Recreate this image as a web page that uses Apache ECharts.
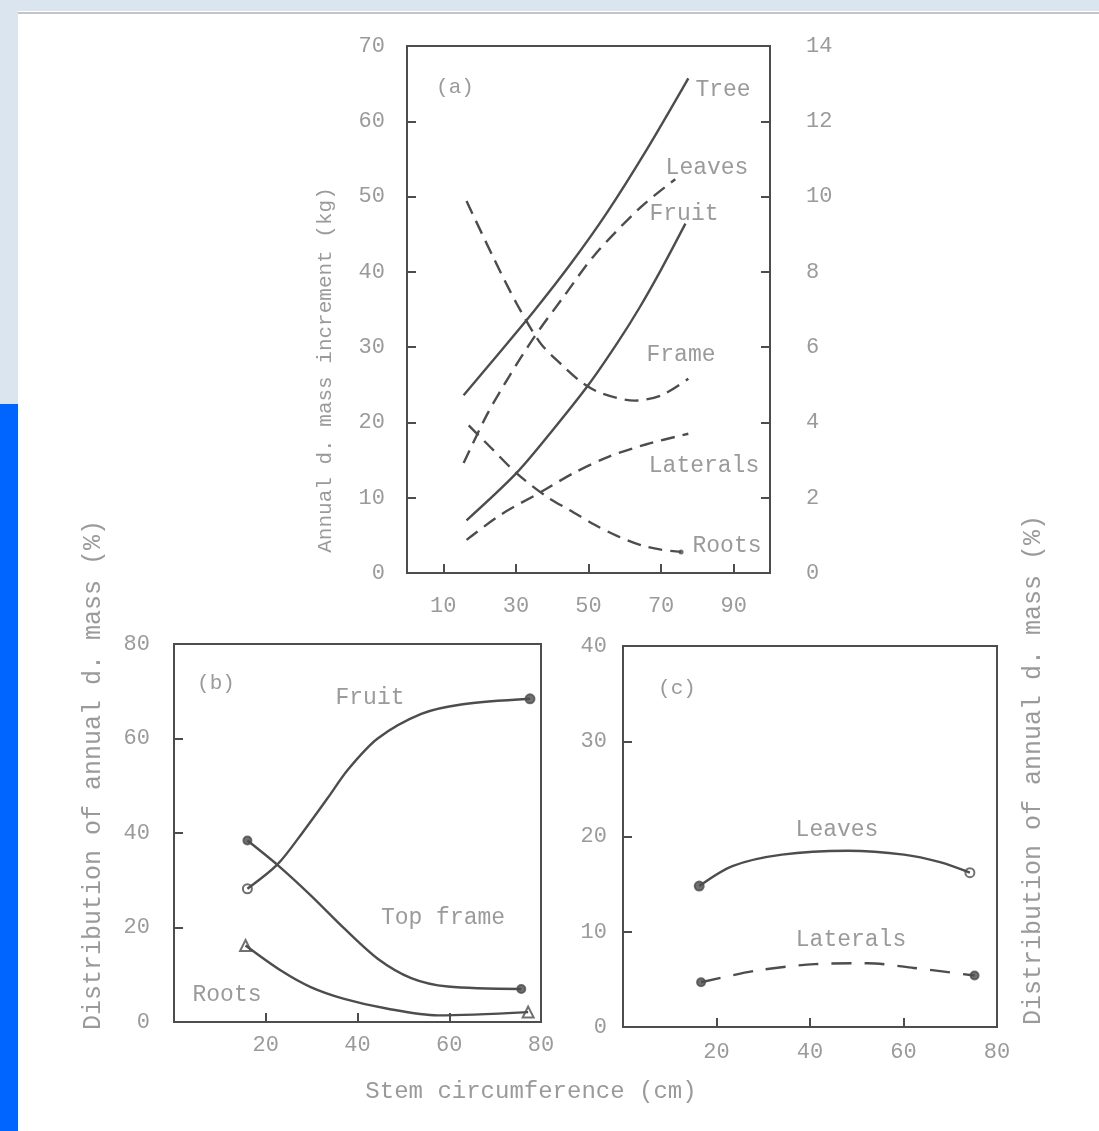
<!DOCTYPE html>
<html>
<head>
<meta charset="UTF-8">
<title>Annual dry mass increment</title>
<script type="text/javascript" src="https://cdn.jsdelivr.net/npm/echarts@6.0.0/dist/echarts.min.js"></script>
<style>
  body { margin: 0; background: #fff; }
  #main { width: 1099px; height: 1131px; }
</style>
</head>
<body>
<div id="main"></div>
<script type="text/javascript">
// panel (a): stem circumference (cm) vs annual d. mass increment
// solid lines on the left axis (kg, 0-70)
var treeA = [[15.6, 23.6], [25, 29.0], [35, 34.8], [45, 41.0], [55, 47.8], [66, 56.2], [77.5, 65.7]];
var fruitA = [[16.4, 7.0], [30, 13.2], [40, 18.9], [50, 25.0], [58, 30.6], [64, 35.2], [70, 40.3], [76.7, 46.4]];
// dashed lines on the right axis (kg, 0-14)
var leavesA = [[15.6, 2.92], [22, 4.2], [28, 5.2], [35, 6.26], [43, 7.32], [51.7, 8.45], [64.4, 9.72], [73.9, 10.46]];
var frameA = [[16.4, 9.88], [23.8, 8.38], [30.3, 7.14], [36.8, 6.1], [42.3, 5.56], [47.9, 5.08], [53.4, 4.78], [62.7, 4.58], [70.1, 4.72], [77.5, 5.16]];
var lateralsA = [[16.4, 0.88], [26, 1.56], [36.7, 2.14], [46, 2.66], [55.3, 3.08], [66, 3.42], [77.5, 3.7]];
var rootsA = [[17, 3.92], [23, 3.34], [30.3, 2.64], [38.6, 2.02], [45, 1.66], [51.7, 1.28], [58, 0.98], [64.4, 0.74], [70, 0.62], [75.5, 0.56]];

// panel (b): distribution of annual d. mass (%)
var fruitB = [[16, 28.2], [22.6, 33.4], [28.4, 40.6], [33.5, 47.4], [37.9, 53.4], [44.4, 60.0], [53.9, 65.2], [62.6, 67.2], [77.6, 68.4]];
var topFrameB = [[16, 38.4], [22.6, 33.2], [29.8, 26.8], [37.1, 19.8], [44.4, 13.4], [51.7, 9.3], [59.7, 7.5], [75.7, 7.0]];
var rootsB = [[15.6, 16.2], [23.3, 10.9], [29.8, 7.4], [37.1, 4.9], [46.6, 2.8], [57.5, 1.4], [77.2, 2.1]];

// panel (c)
var leavesC = [[16.3, 14.8], [23.4, 16.9], [34, 18.1], [48.1, 18.5], [60.1, 18.1], [67.8, 17.3], [74.2, 16.2]];
var lateralsC = [[16.7, 4.7], [28.3, 5.9], [41, 6.6], [52.3, 6.7], [62.2, 6.2], [75.2, 5.4]];

var xTicksA = [10, 30, 50, 70, 90];

var ink = '#4d4d4d';
var grey = '#9a9a9a';
var mono = '"Liberation Mono", "DejaVu Sans Mono", monospace';

var myChart = echarts.init(document.getElementById('main'));

function line(data, xi, yi, dash) {
	return {
		type : 'line',
		xAxisIndex : xi,
		yAxisIndex : yi,
		data : data,
		smooth : 0.3,
		symbol : 'none',
		silent : true,
		lineStyle : { color : ink, width : 2.4, type : dash || 'solid' }
	};
}
// end point markers
function marks(data, xi, yi, first, last, size) {
	return {
		type : 'scatter',
		xAxisIndex : xi,
		yAxisIndex : yi,
		silent : true,
		data : [
			{ value : data[0], symbol : first, symbolSize : size || 9 },
			{ value : data[data.length - 1], symbol : last, symbolSize : size || 9 }
		],
		itemStyle : { color : ink, borderColor : ink, borderWidth : 2 }
	};
}
function txt(s, x, y, size, rot) {
	return {
		type : 'text',
		x : x,
		y : y,
		rotation : rot || 0,
		silent : true,
		style : {
			text : s,
			fill : grey,
			font : (size || 23) + 'px ' + mono,
			align : 'center',
			verticalAlign : 'middle'
		}
	};
}

var axisLbl = { color : grey, fontFamily : mono, fontSize : 22 };

option = {
	animation : false,
	backgroundColor : '#fff',
	grid : [
		{ left : 407, top : 46, width : 363, height : 527, show : true, borderColor : ink, borderWidth : 2 },
		{ left : 174, top : 644, width : 367, height : 378, show : true, borderColor : ink, borderWidth : 2 },
		{ left : 623, top : 646, width : 374, height : 381, show : true, borderColor : ink, borderWidth : 2 }
	],
	xAxis : [
		{
			gridIndex : 0, type : 'value', min : 0, max : 100,
			axisLine : { lineStyle : { color : ink, width : 2 } },
			axisTick : { inside : true, length : 9, customValues : xTicksA, lineStyle : { color : ink, width : 2 } },
			axisLabel : Object.assign({ margin : 22, customValues : xTicksA }, axisLbl),
			splitLine : { show : false }
		},
		{
			gridIndex : 1, type : 'value', min : 0, max : 80, interval : 20,
			axisLine : { lineStyle : { color : ink, width : 2 } },
			axisTick : { inside : true, length : 9, lineStyle : { color : ink, width : 2 } },
			axisLabel : Object.assign({ margin : 12, showMinLabel : false }, axisLbl),
			splitLine : { show : false }
		},
		{
			gridIndex : 2, type : 'value', min : 0, max : 80, interval : 20,
			axisLine : { lineStyle : { color : ink, width : 2 } },
			axisTick : { inside : true, length : 9, lineStyle : { color : ink, width : 2 } },
			axisLabel : Object.assign({ margin : 14, showMinLabel : false }, axisLbl),
			splitLine : { show : false }
		}
	],
	yAxis : [
		{
			gridIndex : 0, type : 'value', min : 0, max : 70, interval : 10,
			axisLine : { lineStyle : { color : ink, width : 2 } },
			axisTick : { inside : true, length : 9, lineStyle : { color : ink, width : 2 } },
			axisLabel : Object.assign({ margin : 22 }, axisLbl),
			splitLine : { show : false }
		},
		{
			gridIndex : 0, type : 'value', position : 'right', min : 0, max : 14, interval : 2,
			axisLine : { show : true, lineStyle : { color : ink, width : 2 } },
			axisTick : { inside : true, length : 9, lineStyle : { color : ink, width : 2 } },
			axisLabel : Object.assign({ margin : 36 }, axisLbl),
			splitLine : { show : false }
		},
		{
			gridIndex : 1, type : 'value', min : 0, max : 80, interval : 20,
			axisLine : { lineStyle : { color : ink, width : 2 } },
			axisTick : { inside : true, length : 9, lineStyle : { color : ink, width : 2 } },
			axisLabel : Object.assign({ margin : 24 }, axisLbl),
			splitLine : { show : false }
		},
		{
			gridIndex : 2, type : 'value', min : 0, max : 40, interval : 10,
			axisLine : { lineStyle : { color : ink, width : 2 } },
			axisTick : { inside : true, length : 9, lineStyle : { color : ink, width : 2 } },
			axisLabel : Object.assign({ margin : 16 }, axisLbl),
			splitLine : { show : false }
		}
	],
	series : [
		line(treeA, 0, 0),
		line(fruitA, 0, 0),
		line(leavesA, 0, 1, [14, 8]),
		line(frameA, 0, 1, [14, 8]),
		line(lateralsA, 0, 1, [14, 8]),
		line(rootsA, 0, 1, [14, 8]),
		{
			type : 'scatter', xAxisIndex : 0, yAxisIndex : 1, silent : true,
			data : [rootsA[rootsA.length - 1]], symbolSize : 5,
			itemStyle : { color : ink }
		},

		line(fruitB, 1, 2),
		line(topFrameB, 1, 2),
		line(rootsB, 1, 2),
		marks(fruitB, 1, 2, 'emptyCircle', 'circle'),
		marks(topFrameB, 1, 2, 'circle', 'circle', 8),
		marks(rootsB, 1, 2, 'emptyTriangle', 'emptyTriangle', 11),

		line(leavesC, 2, 3),
		line(lateralsC, 2, 3, [20, 13]),
		marks(leavesC, 2, 3, 'circle', 'emptyCircle'),
		marks(lateralsC, 2, 3, 'circle', 'circle', 8)
	],
	graphic : [
		// page frame of the scan
		{ type : 'rect', silent : true, shape : { x : 0, y : 0, width : 1099, height : 11 }, style : { fill : '#dbe5f0' } },
		{ type : 'rect', silent : true, shape : { x : 0, y : 0, width : 18, height : 404 }, style : { fill : '#dbe5f0' } },
		{ type : 'rect', silent : true, shape : { x : 0, y : 404, width : 18, height : 727 }, style : { fill : '#0064fe' } },
		{ type : 'line', silent : true, shape : { x1 : 18, y1 : 13, x2 : 1099, y2 : 13 }, style : { stroke : '#c4c4c4', lineWidth : 2 } },

		txt('(a)', 455, 87, 21),
		txt('Tree', 723, 90),
		txt('Leaves', 707, 168),
		txt('Fruit', 684, 214),
		txt('Frame', 681, 355),
		txt('Laterals', 704, 466),
		txt('Roots', 727, 546),

		txt('(b)', 216, 683, 21),
		txt('Fruit', 370, 698),
		txt('Top frame', 443, 918),
		txt('Roots', 227, 995),

		txt('(c)', 677, 688, 21),
		txt('Leaves', 837, 830),
		txt('Laterals', 851, 940),

		txt('Annual d. mass increment (kg)', 325, 370, 21, Math.PI / 2),
		txt('Distribution of annual d. mass (%)', 93, 775, 25, Math.PI / 2),
		txt('Distribution of annual d. mass (%)', 1033, 770, 25, Math.PI / 2),
		txt('Stem circumference (cm)', 531, 1092, 24)
	]
};
myChart.setOption(option);
</script>
</body>
</html>
